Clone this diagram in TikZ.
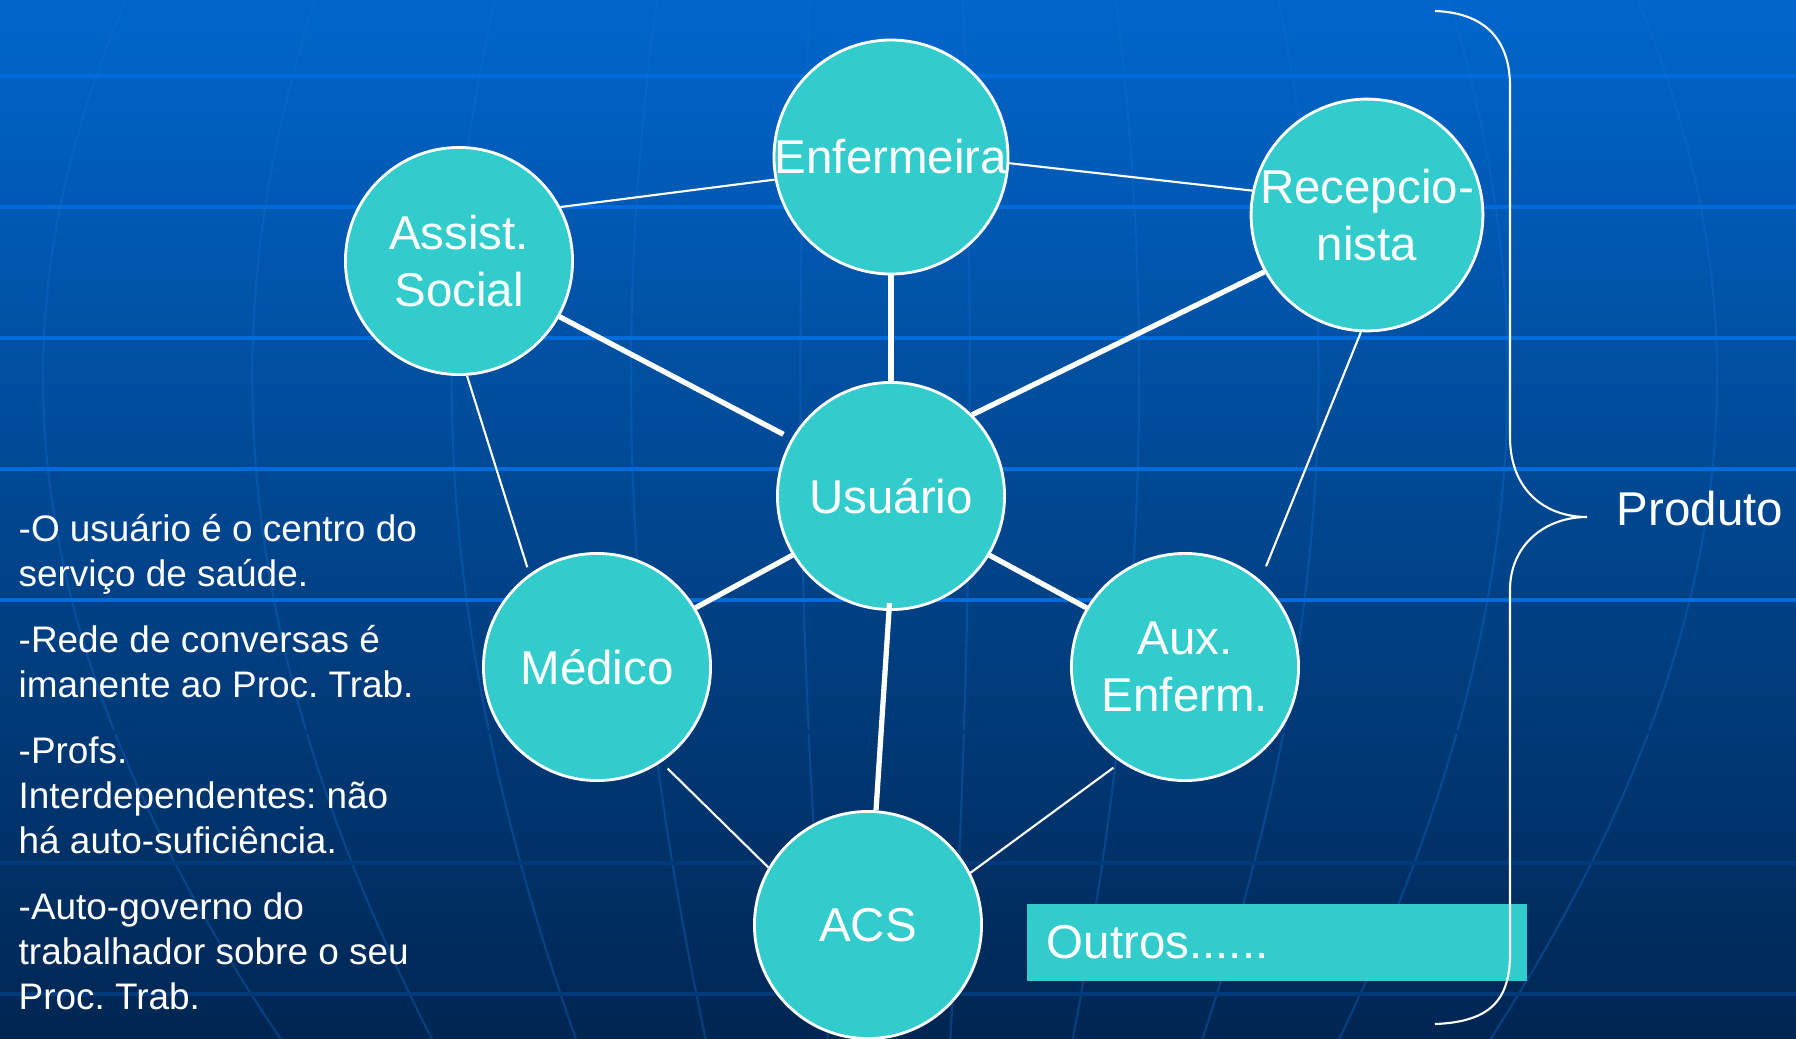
\documentclass[tikz,border=0pt]{standalone}
\usepackage{fontspec}
\setmainfont{Liberation Sans}
\frenchspacing

\definecolor{bgtop}{RGB}{0,102,204}
\definecolor{bgmid}{RGB}{0,72,148}
\definecolor{bgbot}{RGB}{0,38,82}
\definecolor{turq}{RGB}{51,204,204}
\definecolor{gridhi}{RGB}{0,108,220}
\definecolor{gridlo}{RGB}{0,58,122}
\definecolor{meridian}{RGB}{20,110,210}

\begin{document}
\begin{tikzpicture}[x=0.01cm,y=-0.01cm,
        prof/.style={circle,fill=turq,draw=white,line width=0.8pt,minimum size=2.27cm,inner sep=0pt,text=white,align=center,font=\fontsize{13.5}{16}\selectfont},
        strong/.style={white,line width=1.5pt},
        weak/.style={white,line width=0.6pt},
        note/.style={anchor=base west,inner sep=0pt,text=white,align=left,font=\fontsize{10.5}{12.66}\selectfont}]
            \useasboundingbox (0,0) rectangle (1796,1039);
            \shade[top color=bgtop,middle color=bgmid,bottom color=bgbot] (0,0) rectangle (1796,1039);

            % Background grid
            \foreach \d in {-860,-650,-450,-270,-100,70,240,420,610,820}{
            \draw[meridian,opacity=0.35,line width=0.6pt] ({900+0.9*\d},0) .. controls ({900+1.05*\d},300) and ({900+1.05*\d},620) .. ({900+0.72*\d},1039);
            }
            \foreach \y in {76,207,338,469,600}{
            \draw[gridhi,line width=0.9pt] (0,\y) -- (1796,\y);
            }
            \foreach \y in {732,863,994}{
            \draw[gridlo,line width=0.9pt] (0,\y) -- (1796,\y);
            }

            % Professionals
            \node[prof] (enf) at (891,157) {Enfermeira};
            \node[prof] (assist) at (459,261) {Assist.\\Social};
            \node[prof] (recep) at (1367,215) {Recepcio-\\nista};
            \node[prof] (usu) at (891,496) {Usuário};
            \node[prof] (med) at (597,667) {Médico};
            \node[prof] (aux) at (1185,667) {Aux.\\Enferm.};
            \node[prof] (acs) at (868,925) {ACS};

            % Connectors
            \draw[weak] (assist.28) -- (enf.191);
            \draw[weak] (enf.-3) -- (recep.168);
            \draw[strong] (enf.270) -- (usu.90);
            \draw[strong,shorten >=0.09cm] (assist.-29) -- (usu.150);
            \draw[strong] (recep.209) -- (usu.45);
            \draw[weak,shorten >=0.07cm] (assist.274) -- (med.126);
            \draw[weak,shorten >=0.15cm] (recep.267) -- (aux.49);
            \draw[strong] (med.31) -- (usu.211);
            \draw[strong] (usu.-31) -- (aux.149);
            \draw[strong,shorten <=-0.08cm] (usu.269) -- (acs.86);
            \draw[weak,shorten <=0.09cm] (med.-56) -- (acs.150);
            \draw[weak,shorten <=0.09cm] (aux.236) -- (acs.27);

            \node[fill=turq,minimum width=5cm,minimum height=0.76cm,text width=4.6cm,inner xsep=0.2cm,align=left,text=white,font=\fontsize{13.5}{16}\selectfont] (outros) at (1277,942.5) {Outros......};

            % Brace
            \draw[white,line width=0.6pt] (1435,11) .. controls (1490,13) and (1510,45) .. (1510,86) -- (1510,437)
            .. controls (1510,490) and (1545,517) .. (1587,517)
            .. controls (1545,517) and (1510,545) .. (1510,590) -- (1510,954)
            .. controls (1510,1000) and (1490,1022) .. (1435,1024);
            \node[text=white,font=\fontsize{13.5}{16}\selectfont] (produto) at (1700,509) {Produto};

            % Notes (anchored at the baseline of the last line)
            \node[note] (n1) at (18,586) {-O usuário é o centro do\\serviço de saúde.};
            \node[note] (n2) at (18,697) {-Rede de conversas é\\imanente ao Proc. Trab.};
            \node[note] (n3) at (18,853) {-Profs.\\Interdependentes: não\\há auto-suficiência.};
            \node[note] (n4) at (18,1009) {-Auto-governo do\\trabalhador sobre o seu\\Proc. Trab.};
        \end{tikzpicture}
\end{document}
